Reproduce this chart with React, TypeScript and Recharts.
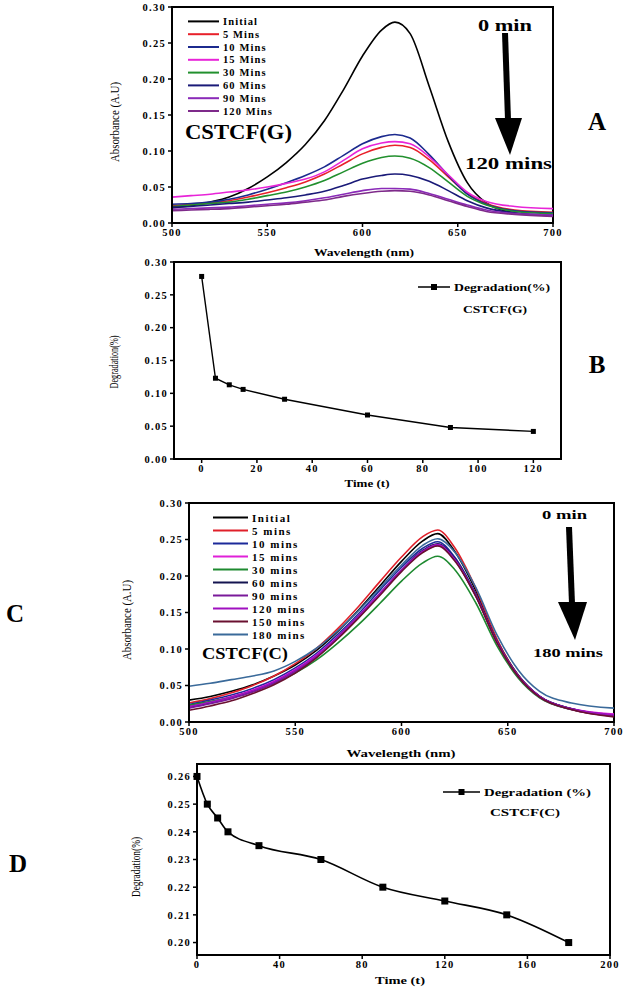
import { Legend, Line, LineChart, ReferenceArea, XAxis, YAxis } from "recharts";

const serif = "'Liberation Serif', 'DejaVu Serif', serif";

// wavelength grid (nm) shared by both spectra panels
const wavelengths = [500, 510, 520, 530, 540, 550, 560, 570, 580, 590, 600, 610, 617, 625, 635, 645, 655, 665, 680, 700];
const wavelengthTicks = [500, 550, 600, 650, 700];
const absorbanceTicks = [0, 0.05, 0.1, 0.15, 0.2, 0.25, 0.3];

// panel A – CSTCF(G)
const gInitial = [0.021, 0.024, 0.029, 0.036, 0.048, 0.064, 0.084, 0.109, 0.142, 0.185, 0.232, 0.268, 0.279, 0.263, 0.19, 0.113, 0.056, 0.028, 0.014, 0.01];
const g5 = [0.024, 0.026, 0.028, 0.031, 0.036, 0.042, 0.049, 0.057, 0.068, 0.082, 0.096, 0.105, 0.108, 0.105, 0.088, 0.064, 0.041, 0.027, 0.018, 0.015];
const g10 = [0.026, 0.027, 0.029, 0.033, 0.039, 0.047, 0.056, 0.066, 0.078, 0.094, 0.11, 0.12, 0.123, 0.118, 0.095, 0.066, 0.04, 0.026, 0.017, 0.014];
const g15 = [0.036, 0.038, 0.04, 0.043, 0.046, 0.05, 0.055, 0.061, 0.071, 0.087, 0.103, 0.111, 0.113, 0.11, 0.092, 0.067, 0.043, 0.03, 0.023, 0.02];
const g30 = [0.023, 0.025, 0.027, 0.029, 0.033, 0.038, 0.043, 0.05, 0.059, 0.071, 0.083, 0.091, 0.093, 0.09, 0.077, 0.057, 0.037, 0.025, 0.016, 0.013];
const g60 = [0.022, 0.023, 0.025, 0.027, 0.029, 0.032, 0.035, 0.039, 0.044, 0.052, 0.061, 0.066, 0.068, 0.066, 0.058, 0.045, 0.031, 0.021, 0.014, 0.011];
const g90 = [0.019, 0.02, 0.021, 0.022, 0.024, 0.026, 0.028, 0.031, 0.035, 0.04, 0.045, 0.048, 0.048, 0.047, 0.041, 0.033, 0.025, 0.018, 0.013, 0.011];
const g120 = [0.017, 0.018, 0.019, 0.02, 0.022, 0.024, 0.026, 0.029, 0.032, 0.037, 0.041, 0.044, 0.045, 0.044, 0.039, 0.031, 0.023, 0.016, 0.012, 0.009];
const gNames = ["Initial", "5 Mins", "10 Mins", "15 Mins", "30 Mins", "60 Mins", "90 Mins", "120 Mins"];
const gColors = ["#000000", "#e8202a", "#1c2a8e", "#e824d8", "#22902e", "#1a1a78", "#8a2ab8", "#7e2a8a"];

// panel C – CSTCF(C)
const cInitial = [0.03, 0.035, 0.042, 0.051, 0.063, 0.078, 0.098, 0.124, 0.154, 0.187, 0.22, 0.248, 0.258, 0.234, 0.18, 0.112, 0.064, 0.035, 0.018, 0.009];
const c5 = [0.026, 0.032, 0.04, 0.05, 0.063, 0.08, 0.101, 0.128, 0.159, 0.193, 0.226, 0.254, 0.263, 0.239, 0.183, 0.113, 0.063, 0.034, 0.017, 0.008];
const c10 = [0.024, 0.03, 0.037, 0.046, 0.058, 0.074, 0.094, 0.12, 0.149, 0.181, 0.212, 0.238, 0.247, 0.226, 0.175, 0.11, 0.063, 0.035, 0.018, 0.01];
const c15 = [0.022, 0.028, 0.035, 0.044, 0.056, 0.072, 0.092, 0.117, 0.146, 0.177, 0.208, 0.234, 0.243, 0.223, 0.173, 0.109, 0.063, 0.035, 0.018, 0.011];
const c30 = [0.023, 0.028, 0.034, 0.042, 0.053, 0.067, 0.085, 0.108, 0.134, 0.163, 0.193, 0.218, 0.227, 0.209, 0.163, 0.104, 0.06, 0.033, 0.017, 0.009];
const c60 = [0.02, 0.026, 0.033, 0.042, 0.054, 0.07, 0.09, 0.116, 0.145, 0.176, 0.208, 0.235, 0.244, 0.224, 0.174, 0.11, 0.063, 0.035, 0.018, 0.009];
const c90 = [0.019, 0.025, 0.032, 0.041, 0.053, 0.069, 0.089, 0.115, 0.144, 0.175, 0.207, 0.233, 0.242, 0.222, 0.172, 0.109, 0.062, 0.034, 0.017, 0.008];
const c120 = [0.021, 0.027, 0.034, 0.043, 0.055, 0.071, 0.091, 0.116, 0.145, 0.176, 0.208, 0.234, 0.243, 0.223, 0.173, 0.109, 0.063, 0.035, 0.018, 0.01];
const c150 = [0.016, 0.022, 0.029, 0.039, 0.051, 0.067, 0.088, 0.114, 0.143, 0.174, 0.206, 0.232, 0.241, 0.221, 0.172, 0.108, 0.062, 0.034, 0.017, 0.007];
const c180 = [0.049, 0.053, 0.058, 0.063, 0.07, 0.083, 0.101, 0.125, 0.153, 0.184, 0.215, 0.242, 0.251, 0.233, 0.184, 0.119, 0.071, 0.042, 0.026, 0.019];
const cNames = ["Initial", "5 mins", "10 mins", "15 mins", "30 mins", "60 mins", "90 mins", "120 mins", "150 mins", "180 mins"];
const cColors = ["#000000", "#e0202a", "#1c2a9a", "#e020d8", "#1e8a30", "#141450", "#7a1a9a", "#a010c0", "#6a1030", "#3a6a9a"];

// panel B – degradation CSTCF(G)
const gTimes = [0, 5, 10, 15, 30, 60, 90, 120];
const gDegradation = [0.278, 0.123, 0.113, 0.106, 0.091, 0.067, 0.048, 0.042];
const gTimeTicks = [0, 20, 40, 60, 80, 100, 120];

// panel D – degradation CSTCF(C)
const cTimes = [0, 5, 10, 15, 30, 60, 90, 120, 150, 180];
const cDegradation = [0.26, 0.25, 0.245, 0.24, 0.235, 0.23, 0.22, 0.215, 0.21, 0.2];
const cTimeTicks = [0, 40, 80, 120, 160, 200];
const cDegTicks = [0.2, 0.21, 0.22, 0.23, 0.24, 0.25, 0.26];

const toRows = (series: number[][]) =>
  wavelengths.map((wl, i) => {
    const row: Record<string, number> = { wl };
    series.forEach((s, k) => (row[`s${k}`] = s[i]));
    return row;
  });

const gRows = toRows([gInitial, g5, g10, g15, g30, g60, g90, g120]);
const cRows = toRows([cInitial, c5, c10, c15, c30, c60, c90, c120, c150, c180]);
const bRows = gTimes.map((t, i) => ({ t, v: gDegradation[i] }));
const dRows = cTimes.map((t, i) => ({ t, v: cDegradation[i] }));

const tickStyle = { fontSize: 10.5, fontWeight: 700, fill: "#000", fontFamily: serif };
const axisLine = { stroke: "#000", strokeWidth: 2 };
const tickLine = { stroke: "#000", strokeWidth: 1.5 };
const fmt2 = (v: number) => v.toFixed(2);

function SeriesLegend({ payload, order, rowH, lineW, fontSize, spacing }: any) {
  // keep the plotting order instead of the library's alphabetical sort
  const items = [...(payload || [])].sort((a: any, b: any) => order.indexOf(a.value) - order.indexOf(b.value));
  return (
    <svg width={140} height={items.length * rowH}>
      {items.map((p: any, i: number) => (
        <g key={p.value}>
          <line x1={0} x2={lineW} y1={i * rowH + rowH / 2} y2={i * rowH + rowH / 2} stroke={p.color} strokeWidth={2} />
          <text
            x={lineW + 4}
            y={i * rowH + rowH / 2}
            dominantBaseline="central"
            fontSize={fontSize}
            fontWeight={700}
            fontFamily={serif}
            letterSpacing={spacing}
          >
            {p.value}
          </text>
        </g>
      ))}
    </svg>
  );
}

function MarkerLegend({ payload, lineW, label, textW, fontSize }: any) {
  const p = (payload || [])[0];
  if (!p) return null;
  return (
    <svg width={lineW + textW + 8} height={14}>
      <line x1={0} x2={lineW} y1={7} y2={7} stroke="#000" strokeWidth={1.5} />
      <rect x={lineW / 2 - 3} y={4} width={6} height={6} fill="#000" />
      <text x={lineW + 4} y={7} dominantBaseline="central" fontSize={fontSize} fontWeight={700} fontFamily={serif} textLength={textW} lengthAdjust="spacingAndGlyphs">
        {label}
      </text>
    </svg>
  );
}

const squareDot = (size: number) => (props: any) => (
  <rect key={`d${props.index}`} x={props.cx - size / 2} y={props.cy - size / 2} width={size} height={size} fill="#000" />
);

function Txt({ x, y, size, bold = true, len, anchor = "middle", rotate = false, children }: any) {
  return (
    <text
      x={x}
      y={y}
      fontSize={size}
      fontWeight={bold ? 700 : 400}
      fontFamily={serif}
      textAnchor={anchor}
      dominantBaseline="central"
      textLength={len}
      lengthAdjust={len ? "spacingAndGlyphs" : undefined}
      transform={rotate ? `rotate(-90 ${x} ${y})` : undefined}
    >
      {children}
    </text>
  );
}

function Arrow({ top, bottom, headTop, tip, headL, headR }: any) {
  return (
    <g fill="#000">
      <polygon points={`${top - 3},${bottom[0]} ${top + 3},${bottom[0]} ${headTop[0] + 3},${headTop[1] + 2} ${headTop[0] - 3},${headTop[1] + 2}`} />
      <polygon points={`${headL},${headTop[1]} ${headR},${headTop[1]} ${tip[0]},${tip[1]}`} />
    </g>
  );
}

const place = (top: number): React.CSSProperties => ({ position: "absolute", left: 0, top });

export default function App() {
  return (
    <div style={{ position: "absolute", left: 0, top: 0, width: 628, height: 992, background: "#fff", fontFamily: serif }}>
      <style>{`.recharts-cartesian-axis-tick-value { letter-spacing: 1.3px; font-weight: 700; }`}</style>
      {/* A */}
      <div style={place(0)}>
        <LineChart width={600} height={260} data={gRows} margin={{ top: 7, right: 47, left: 0, bottom: 7 }}>
          <XAxis dataKey="wl" type="number" domain={[500, 700]} ticks={wavelengthTicks} height={30} tick={tickStyle} axisLine={axisLine} tickLine={tickLine} tickSize={4} />
          <YAxis type="number" domain={[0, 0.3]} ticks={absorbanceTicks} width={172} tick={tickStyle} axisLine={axisLine} tickLine={tickLine} tickSize={4} tickFormatter={fmt2} />
          <ReferenceArea x1={500} x2={700} y1={0} y2={0.3} fill="none" stroke="#000" strokeWidth={2} />
          {gNames.map((n, k) => (
            <Line key={n} dataKey={`s${k}`} name={n} stroke={gColors[k]} strokeWidth={1.6} dot={false} type="monotone" isAnimationActive={false} />
          ))}
          <Legend
            layout="vertical"
            align="center"
            verticalAlign="middle"
            wrapperStyle={{ left: 188, top: 15, width: 140 }}
            content={(p: any) => <SeriesLegend payload={p.payload} order={gNames} rowH={12.8} lineW={31} fontSize={10.5} spacing={1.1} />}
          />
        </LineChart>
      </div>

      {/* B */}
      <div style={place(250)}>
        <LineChart width={600} height={240} data={bRows} margin={{ top: 12, right: 39, left: 0, bottom: 1 }}>
          <XAxis dataKey="t" type="number" domain={[-10, 130]} ticks={gTimeTicks} height={30} tick={tickStyle} axisLine={axisLine} tickLine={tickLine} tickSize={4} />
          <YAxis type="number" domain={[0, 0.3]} ticks={absorbanceTicks} width={174} tick={tickStyle} axisLine={axisLine} tickLine={tickLine} tickSize={4} tickFormatter={fmt2} />
          <ReferenceArea x1={-10} x2={130} y1={0} y2={0.3} fill="none" stroke="#000" strokeWidth={2} />
          <Line dataKey="v" name="Degradation(%)" stroke="#000" strokeWidth={1.4} type="linear" dot={squareDot(5)} isAnimationActive={false} />
          <Legend
            layout="vertical"
            align="center"
            verticalAlign="middle"
            wrapperStyle={{ left: 418, top: 30 }}
            content={(p: any) => <MarkerLegend payload={p.payload} lineW={32} label="Degradation(%)" textW={96} fontSize={10} />}
          />
        </LineChart>
      </div>

      {/* C */}
      <div style={place(495)}>
        <LineChart width={628} height={258} data={cRows} margin={{ top: 8, right: 14, left: 0, bottom: 1 }}>
          <XAxis dataKey="wl" type="number" domain={[500, 700]} ticks={wavelengthTicks} height={30} tick={tickStyle} axisLine={axisLine} tickLine={tickLine} tickSize={4} />
          <YAxis type="number" domain={[0, 0.3]} ticks={absorbanceTicks} width={189} tick={tickStyle} axisLine={axisLine} tickLine={tickLine} tickSize={4} tickFormatter={fmt2} />
          <ReferenceArea x1={500} x2={700} y1={0} y2={0.3} fill="none" stroke="#000" strokeWidth={2} />
          {cNames.map((n, k) => (
            <Line key={n} dataKey={`s${k}`} name={n} stroke={cColors[k]} strokeWidth={1.6} dot={false} type="monotone" isAnimationActive={false} />
          ))}
          <Legend
            layout="vertical"
            align="center"
            verticalAlign="middle"
            wrapperStyle={{ left: 213, top: 15.5, width: 140 }}
            content={(p: any) => <SeriesLegend payload={p.payload} order={cNames} rowH={13} lineW={35} fontSize={11} spacing={1.5} />}
          />
        </LineChart>
      </div>

      {/* D */}
      <div style={place(758)}>
        <LineChart width={628} height={228} data={dRows} margin={{ top: 6, right: 18, left: 0, bottom: 1 }}>
          <XAxis dataKey="t" type="number" domain={[0, 200]} ticks={cTimeTicks} height={30} tick={tickStyle} axisLine={axisLine} tickLine={tickLine} tickSize={4} />
          <YAxis type="number" domain={[0.1955, 0.2645]} ticks={cDegTicks} width={197} tick={tickStyle} axisLine={axisLine} tickLine={tickLine} tickSize={4} tickFormatter={fmt2} />
          <ReferenceArea x1={0} x2={200} y1={0.1955} y2={0.2645} fill="none" stroke="#000" strokeWidth={2} />
          <Line dataKey="v" name="Degradation (%)" stroke="#000" strokeWidth={1.6} type="monotone" dot={squareDot(7)} isAnimationActive={false} />
          <Legend
            layout="vertical"
            align="center"
            verticalAlign="middle"
            wrapperStyle={{ left: 443, top: 27 }}
            content={(p: any) => <MarkerLegend payload={p.payload} lineW={37} label="Degradation (%)" textW={107} fontSize={10.5} />}
          />
        </LineChart>
      </div>

      {/* annotations */}
      <svg width={628} height={992} style={{ position: "absolute", left: 0, top: 0, pointerEvents: "none" }}>
        <Txt x={115} y={122} size={12.5} bold={false} len={80} rotate>Absorbance (A.U)</Txt>
        <Txt x={364} y={252} size={11} len={100}>Wavelength (nm)</Txt>
        <Txt x={185} y={132} size={20} len={107} anchor="start">CSTCF(G)</Txt>
        <Txt x={478} y={25} size={17} len={54} anchor="start">0 min</Txt>
        <Txt x={465} y={163} size={17} len={87} anchor="start">120 mins</Txt>
        <Txt x={597} y={121} size={25}>A</Txt>
        <Arrow top={505} bottom={[33]} headTop={[508, 118]} tip={[510, 155]} headL={495} headR={522} />

        <Txt x={113} y={362} size={13} bold={false} len={53} rotate>Degradation(%)</Txt>
        <Txt x={367} y={483} size={10} len={45}>Time (t)</Txt>
        <Txt x={495} y={310} size={9.5} len={64}>CSTCF(G)</Txt>
        <Txt x={597} y={364} size={25}>B</Txt>

        <Txt x={127} y={620} size={12.5} bold={false} len={80} rotate>Absorbance (A.U)</Txt>
        <Txt x={401} y={753} size={11} len={109}>Wavelength (nm)</Txt>
        <Txt x={202} y={653} size={16} len={86} anchor="start">CSTCF(C)</Txt>
        <Txt x={542} y={514} size={13} len={45} anchor="start">0 min</Txt>
        <Txt x={533} y={652} size={13} len={70} anchor="start">180 mins</Txt>
        <Txt x={15} y={613} size={25}>C</Txt>
        <Arrow top={569} bottom={[527]} headTop={[572, 602]} tip={[575, 640]} headL={558} headR={587} />

        <Txt x={135} y={867} size={13.5} bold={false} len={60} rotate>Degradation(%)</Txt>
        <Txt x={400} y={980} size={10} len={50}>Time (t)</Txt>
        <Txt x={525} y={813} size={9.5} len={70}>CSTCF(C)</Txt>
        <Txt x={18} y={863} size={25}>D</Txt>
      </svg>
    </div>
  );
}
